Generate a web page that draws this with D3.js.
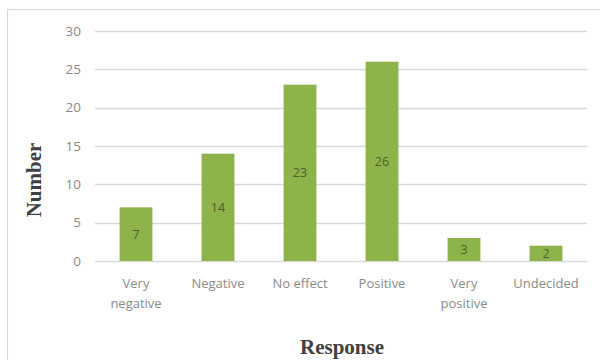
<!DOCTYPE html>
<html>
<head>
<meta charset="utf-8">
<script src="https://cdn.jsdelivr.net/npm/d3@7"></script>
<style>
  html, body { margin: 0; padding: 0; background: #fff; }
  svg { display: block; }
</style>
</head>
<body>
<svg id="chart" width="600" height="360"></svg>
<script>
// Survey responses and counts
const categories = ["Very negative", "Negative", "No effect", "Positive", "Very positive", "Undecided"];
const counts = [7, 14, 23, 26, 3, 2];
const yTicks = [0, 5, 10, 15, 20, 25, 30];

const svg = d3.select("#chart");
const W = 600, H = 360;

// Outer frame
svg.append("rect")
  .attr("x", 7.5).attr("y", 9.5)
  .attr("width", W).attr("height", H)
  .attr("fill", "#fff")
  .attr("stroke", "#d9d9d9").attr("stroke-width", 1.2);

const plot = { left: 95, right: 587, top: 31, bottom: 261 };

const x = d3.scaleBand()
  .domain(categories)
  .range([plot.left, plot.right])
  .paddingInner(0.6)
  .paddingOuter(0.3);

const y = d3.scaleLinear()
  .domain([0, 30])
  .range([plot.bottom, plot.top]);

// Horizontal gridlines
svg.append("g")
  .selectAll("line")
  .data(yTicks)
  .join("line")
  .attr("x1", plot.left).attr("x2", plot.right)
  .attr("y1", d => Math.round(y(d)) + 0.5)
  .attr("y2", d => Math.round(y(d)) + 0.5)
  .attr("stroke", "#d9d9d9").attr("stroke-width", 1.3);

// Y axis labels
const yAxis = d3.axisLeft(y).tickValues(yTicks).tickSize(0).tickPadding(0);
const gy = svg.append("g")
  .attr("transform", `translate(${plot.left - 14},0)`)
  .call(yAxis);
gy.select(".domain").remove();
gy.selectAll("text")
  .attr("font-family", "'Open Sans', sans-serif")
  .attr("font-size", 13.5)
  .attr("fill", "#8a8a8a");

// Bars
svg.append("g")
  .selectAll("rect")
  .data(categories)
  .join("rect")
  .attr("x", d => x(d))
  .attr("width", x.bandwidth())
  .attr("y", (d, i) => y(counts[i]))
  .attr("height", (d, i) => y(0) - y(counts[i]))
  .attr("fill", "#8db34a");

// Value labels centred in each bar
svg.append("g")
  .selectAll("text")
  .data(categories)
  .join("text")
  .attr("x", d => x(d) + x.bandwidth() / 2)
  .attr("y", (d, i) => (y(counts[i]) + y(0)) / 2)
  .attr("dy", "0.36em")
  .attr("text-anchor", "middle")
  .attr("font-family", "'Open Sans', sans-serif")
  .attr("font-size", 12.5)
  .attr("fill", "#4e5f2c")
  .text((d, i) => counts[i]);

// X axis category labels, wrapped on two lines where needed
const gx = svg.append("g")
  .attr("transform", `translate(0,${plot.bottom})`)
  .call(d3.axisBottom(x).tickSize(0).tickPadding(0).tickFormat(""));
gx.select(".domain").remove();
gx.selectAll(".tick").each(function(d) {
  const words = d === "No effect" ? [d] : d.split(" ");
  const t = d3.select(this).append("text")
    .attr("text-anchor", "middle")
    .attr("font-family", "'Open Sans', sans-serif")
    .attr("font-size", 13)
    .attr("fill", "#8a8a8a");
  words.forEach((w, i) => {
    t.append("tspan").attr("x", 0).attr("y", 27 + i * 20).text(w);
  });
});

// Axis titles
svg.append("text")
  .attr("transform", `translate(41,180) rotate(-90)`)
  .attr("text-anchor", "middle")
  .attr("font-family", "'Liberation Serif', 'Times New Roman', serif")
  .attr("font-weight", "bold")
  .attr("font-size", 21)
  .attr("fill", "#404040")
  .text("Number");

svg.append("text")
  .attr("x", 342).attr("y", 354)
  .attr("text-anchor", "middle")
  .attr("font-family", "'Liberation Serif', 'Times New Roman', serif")
  .attr("font-weight", "bold")
  .attr("font-size", 21)
  .attr("fill", "#404040")
  .text("Response");
</script>
</body>
</html>
